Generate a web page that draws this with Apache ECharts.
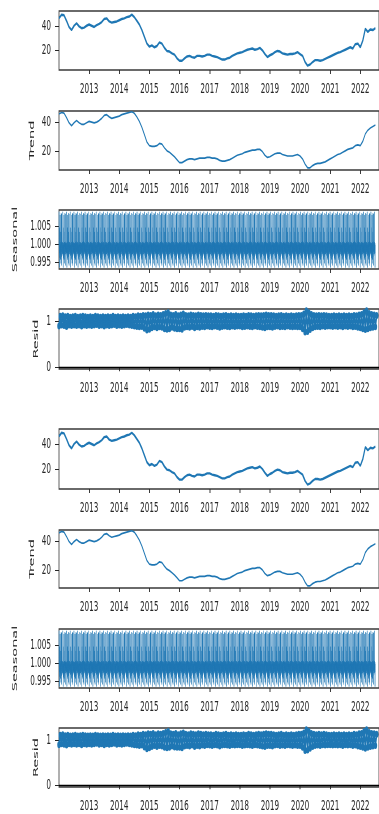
<!DOCTYPE html>
<html>
<head>
<meta charset="utf-8">
<script src="https://cdn.jsdelivr.net/npm/echarts@6/dist/echarts.min.js"></script>
<style>
  html, body { margin: 0; padding: 0; background: #ffffff; overflow: hidden; }
  #frame { width: 379px; height: 814px; overflow: hidden; position: relative; }
  /* the figure is laid out wide and shown horizontally condensed */
  #chart { width: 758px; height: 814px; transform: scaleX(0.5); transform-origin: 0 0; }
</style>
</head>
<body>
<div id="frame"><div id="chart"></div></div>
<script>
// Monthly series, first value is January 2012
const startYear = 2012;
const yearTicks = [2013, 2014, 2015, 2016, 2017, 2018, 2019, 2020, 2021, 2022];
const levelTicks = [20, 40];
const seasonalTicks = [0.995, 1.000, 1.005];
const residTicks = [0, 1];

const observed = [
  46, 49, 48.5, 44, 39, 36.5, 40, 42, 39.5, 38, 38.5, 40,
  41, 40, 39, 40.5, 41.5, 43, 45.5, 46, 43.5, 42.5, 43, 43.5,
  44.5, 45.5, 46, 47, 47.5, 49, 47, 44, 41, 36.5, 31, 25.5,
  23, 24, 22.5, 23.5, 26.5, 25.5, 22, 19.5, 19, 17.5, 16.5, 13.5,
  11.5, 11.5, 13.5, 15, 15.5, 14.5, 14, 15.5, 15.5, 15, 15.5, 16.5,
  16.5, 15.5, 15, 14.5, 13.5, 12.5, 12.5, 13.5, 14, 15.5, 16.5, 17.5,
  18, 18.5, 19.5, 20.5, 21, 21.5, 20.5, 21, 22, 20, 17, 14.5,
  16, 17, 18.5, 19.5, 19, 17.5, 17, 16.5, 17, 17, 17.5, 18.5,
  17, 15.5, 10.5, 7.5, 8.5, 10.5, 12, 12, 11.5, 12, 13, 14,
  15, 16, 17, 18, 18.5, 19.5, 20.5, 21.5, 22.5, 21.5, 25, 25.5,
  22.5, 28, 37.5, 35, 37, 36.5, 38
];

const trend = [
  45.5, 46.5, 46, 43, 39.5, 37.5, 39.5, 41, 39.5, 38.5, 38.5, 39.5,
  40.5, 40, 39.5, 40, 41, 42.5, 44.5, 45, 43.5, 42.5, 43, 43.5,
  44, 45, 45.5, 46, 46.5, 47, 46, 43.5, 40.5, 36.5, 31.5, 26.5,
  24, 23.5, 23.5, 24, 25.5, 25, 22.5, 20.5, 19.5, 18, 16.5, 14.5,
  12.5, 12.5, 13.5, 14.5, 15, 15, 14.5, 15, 15.5, 15.5, 15.5, 16,
  16, 15.5, 15.5, 15, 14, 13.5, 13.5, 14, 14.5, 15.5, 16.5, 17.5,
  18, 18.5, 19.5, 20, 20.5, 21, 21, 21.5, 21.5, 20, 17.5, 16,
  16.5, 17.5, 18.5, 19, 19, 18, 17.5, 17, 17, 17, 17.5, 18,
  17, 15, 11.5, 9, 9, 10.5, 11.5, 12, 12, 12.5, 13, 14,
  15, 16, 17, 18, 18.5, 19.5, 20.5, 21.5, 22, 22.5, 24, 24.5,
  24, 27, 32, 34.5, 36, 37, 38
];

// One full seasonal period (daily steps); the component repeats it
const seasonalCycle = [
  0.9994, 1.0092, 0.9981, 0.9968, 0.9990, 1.0003, 0.9934, 0.9998, 0.9985, 0.9975,
  0.9987, 1.0047, 0.9962, 0.9995, 1.0083, 0.9980, 0.9957, 0.9992, 1.0006, 0.9984,
  0.9971, 0.9999, 0.9989, 0.9946, 1.0035, 0.9993, 1.0088, 0.9977, 0.9965, 0.9996,
  1.0008, 0.9982, 0.9940, 1.0086, 0.9988,
  0.9991, 0.9979, 1.0004, 0.9985, 0.9972, 0.9998, 0.9983, 1.0006, 0.9976, 0.9990
];
const seasonalDays = 3835;

// Monthly upper and lower residual extremes
const residHigh = [
  1.11, 1.12, 1.10, 1.11, 1.09, 1.10, 1.11, 1.09, 1.10, 1.11, 1.10, 1.09,
  1.10, 1.09, 1.11, 1.10, 1.09, 1.10, 1.09, 1.10, 1.09, 1.11, 1.09, 1.10,
  1.09, 1.10, 1.09, 1.10, 1.09, 1.11, 1.10, 1.12, 1.11, 1.13, 1.12, 1.14,
  1.13, 1.15, 1.12, 1.14, 1.13, 1.15, 1.17, 1.19, 1.14, 1.13, 1.15, 1.12,
  1.14, 1.16, 1.13, 1.12, 1.14, 1.13, 1.12, 1.14, 1.13, 1.12, 1.13, 1.12,
  1.12, 1.11, 1.13, 1.12, 1.11, 1.12, 1.13, 1.11, 1.12, 1.11, 1.12, 1.11,
  1.11, 1.12, 1.11, 1.13, 1.12, 1.11, 1.12, 1.13, 1.12, 1.13, 1.14, 1.13,
  1.13, 1.12, 1.11, 1.12, 1.13, 1.11, 1.12, 1.11, 1.12, 1.11, 1.12, 1.13,
  1.13, 1.16, 1.23, 1.19, 1.15, 1.13, 1.12, 1.13, 1.12, 1.13, 1.12, 1.11,
  1.11, 1.12, 1.11, 1.12, 1.11, 1.12, 1.11, 1.12, 1.11, 1.13, 1.12, 1.14,
  1.15, 1.19, 1.23, 1.17, 1.15, 1.14, 1.13
];
const residLow = [
  0.90, 0.92, 0.91, 0.89, 0.92, 0.91, 0.92, 0.91, 0.92, 0.90, 0.92, 0.91,
  0.92, 0.91, 0.92, 0.93, 0.91, 0.92, 0.90, 0.92, 0.91, 0.92, 0.93, 0.91,
  0.92, 0.91, 0.92, 0.93, 0.92, 0.91, 0.90, 0.89, 0.88, 0.89, 0.85, 0.81,
  0.83, 0.86, 0.88, 0.86, 0.88, 0.87, 0.84, 0.83, 0.84, 0.87, 0.85, 0.84,
  0.84, 0.83, 0.87, 0.88, 0.87, 0.89, 0.86, 0.88, 0.87, 0.89, 0.88, 0.90,
  0.89, 0.88, 0.90, 0.89, 0.87, 0.89, 0.90, 0.89, 0.88, 0.90, 0.89, 0.90,
  0.90, 0.88, 0.89, 0.90, 0.89, 0.88, 0.90, 0.89, 0.88, 0.87, 0.86, 0.88,
  0.88, 0.87, 0.89, 0.90, 0.88, 0.89, 0.88, 0.90, 0.89, 0.88, 0.89, 0.88,
  0.88, 0.84, 0.77, 0.78, 0.82, 0.86, 0.88, 0.89, 0.88, 0.90, 0.89, 0.90,
  0.90, 0.89, 0.90, 0.89, 0.90, 0.88, 0.90, 0.89, 0.90, 0.88, 0.89, 0.87,
  0.86, 0.84, 0.82, 0.84, 0.86, 0.87, 0.88
];

// ---- series points on a fractional-year time index ----
const monthX = i => startYear + i / 12;
const observedData = observed.map((v, i) => [monthX(i), v]);
const trendData = trend.map((v, i) => [monthX(i), v]);
const seasonalData = [];
for (let d = 0; d < seasonalDays; d++) {
  seasonalData.push([startYear + d / 365.25, seasonalCycle[d % seasonalCycle.length]]);
}
const residData = [];
residLow.forEach((lo, i) => {
  residData.push([monthX(i), lo]);
  residData.push([monthX(i) + 1 / 24, residHigh[i]]);
});

// ---- layout of the eight panels (two stacked decompositions) ----
const SX = 0.5;                 // horizontal condensing of the figure
const hx = v => v / SX;         // shown width -> drawing width
const panelTops = [11, 111, 210, 309, 429, 530, 629, 728];
const panelHeights = [59, 59, 59, 60, 60, 58, 59, 59];
const panelKinds = ['obs', 'trend', 'seasonal', 'resid', 'obs', 'trend', 'seasonal', 'resid'];

const xMin = 2012, xMax = 2022.62, pxPerYear = 30.9;
const textFont = "'DejaVu Sans', sans-serif";
const blue = '#1f77b4';
const ink = '#262626';
const fs = 14.5;

const yCfg = {
  obs:      { min: 4,     max: 52,     ticks: levelTicks,    fmt: v => String(v),  name: '',         gap: 0 },
  trend:    { min: 7.5,   max: 47.5,   ticks: levelTicks,    fmt: v => String(v),  name: 'Trend',    gap: 46 },
  seasonal: { min: 0.993, max: 1.0097, ticks: seasonalTicks, fmt: v => v.toFixed(3), name: 'Seasonal', gap: 80 },
  resid:    { min: -0.04, max: 1.27,   ticks: residTicks,    fmt: v => String(v),  name: 'Resid',    gap: 38 }
};

const grids = [], xAxes = [], yAxes = [], series = [];
panelKinds.forEach((kind, i) => {
  grids.push({
    left: hx(59), top: panelTops[i], height: panelHeights[i],
    width: (xMax - xMin) * hx(pxPerYear),
    show: true, borderColor: '#3a3a3a', borderWidth: 1.6, backgroundColor: '#fff'
  });
  xAxes.push({
    type: 'value', gridIndex: i, min: xMin, max: xMax,
    axisLine: { show: false }, splitLine: { show: false },
    axisTick: { show: true, length: 4, customValues: yearTicks, lineStyle: { color: ink, width: 1.8 } },
    axisLabel: { customValues: yearTicks, formatter: v => String(v), fontSize: fs,
                 color: ink, margin: 12, fontFamily: textFont }
  });
  const c = yCfg[kind];
  yAxes.push({
    type: 'value', gridIndex: i, min: c.min, max: c.max,
    axisLine: { show: false }, splitLine: { show: false },
    axisTick: { show: true, length: hx(4), customValues: c.ticks, lineStyle: { color: ink, width: 1 } },
    axisLabel: { customValues: c.ticks, formatter: c.fmt, fontSize: fs, color: ink,
                 margin: hx(8), fontFamily: textFont },
    name: c.name, nameLocation: 'middle', nameRotate: 90, nameGap: c.gap,
    nameMoveOverlap: false,
    nameTextStyle: { fontSize: fs, color: ink, fontFamily: textFont }
  });

  if (kind === 'obs' || kind === 'trend') {
    series.push({
      type: 'line', xAxisIndex: i, yAxisIndex: i,
      data: kind === 'obs' ? observedData : trendData,
      showSymbol: false, silent: true,
      lineStyle: { color: blue, width: kind === 'obs' ? 2.4 : 1.7 }
    });
  } else if (kind === 'seasonal') {
    series.push({
      type: 'line', xAxisIndex: i, yAxisIndex: i, data: seasonalData,
      showSymbol: false, silent: true, lineStyle: { color: blue, width: 0.9 }
    });
  } else {
    series.push({
      type: 'line', xAxisIndex: i, yAxisIndex: i, data: residData,
      showSymbol: true, symbol: 'circle', symbolSize: 7, silent: true,
      itemStyle: { color: blue }, lineStyle: { color: blue, width: 3 },
      markLine: {
        silent: true, symbol: 'none', label: { show: false },
        lineStyle: { color: '#000', width: 1.4, type: 'solid' },
        data: [{ yAxis: 0 }]
      }
    });
  }
});

const chart = echarts.init(document.getElementById('chart'), null, { renderer: 'canvas' });
chart.setOption({
  animation: false,
  grid: grids, xAxis: xAxes, yAxis: yAxes, series: series
});
</script>
</body>
</html>
